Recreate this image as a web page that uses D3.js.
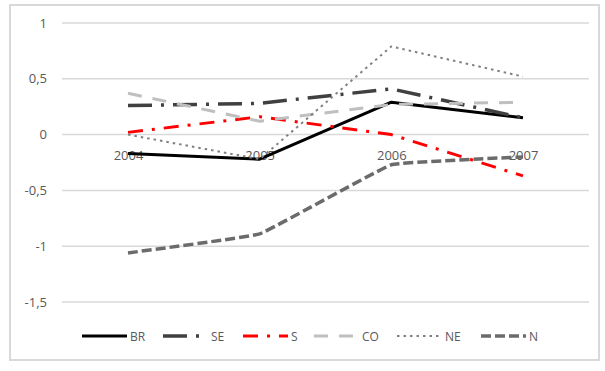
<!DOCTYPE html>
<html><head><meta charset="utf-8">
<script src="https://cdn.jsdelivr.net/npm/d3@7"></script>
<style>body{margin:0;background:#fff}svg{display:block}</style>
</head><body><svg id="c" width="605" height="371"></svg>
<script>
const years = ["2004","2005","2006","2007"];
const BR = [-0.17,-0.22,0.29,0.15];
const SE = [0.26,0.28,0.41,0.15];
const S  = [0.02,0.16,0.00,-0.37];
const CO = [0.37,0.12,0.27,0.29];
const NE = [0.00,-0.22,0.79,0.52];
const N  = [-1.06,-0.89,-0.27,-0.20];
const yTicks = [1,0.5,0,-0.5,-1,-1.5];
const yTickLabels = ["1","0,5","0","-0,5","-1","-1,5"];

const series = [
  {name:"BR", values:BR, color:"#000000", width:3, dash:null, curve:d3.curveLinear},
  {name:"SE", values:SE, color:"#404040", width:3.5, dash:"24,9,3,9", curve:d3.curveLinear},
  {name:"S",  values:S,  color:"#ff0000", width:3, dash:"15,9,3,9", curve:d3.curveLinear},
  {name:"CO", values:CO, color:"#bfbfbf", width:3, dash:"14,11", curve:d3.curveLinear},
  {name:"NE", values:NE, color:"#808080", width:2, dash:"2.5,4", curve:d3.curveLinear},
  {name:"N",  values:N,  color:"#6b6b6b", width:3.5, dash:"10,4", curve:d3.curveCardinal.tension(0.8)}
];

const svg = d3.select("#c");
svg.append("rect").attr("x",10).attr("y",5).attr("width",589).attr("height",355)
  .attr("fill","#fff").attr("stroke","#d9d9d9").attr("stroke-width",2);

const x = d3.scalePoint().domain(years).range([128,523]);
const y = d3.scaleLinear().domain([-1.5,1]).range([302,23]);

// gridlines
svg.append("g").selectAll("line").data(yTicks).join("line")
  .attr("x1",62).attr("x2",589)
  .attr("y1",d=>y(d)).attr("y2",d=>y(d))
  .attr("stroke","#d9d9d9").attr("stroke-width",1.5);

// y axis labels
const yAxis = d3.axisLeft(y).tickValues(yTicks).tickSize(0).tickPadding(0)
  .tickFormat((d,i)=>yTickLabels[i]);
const gy = svg.append("g").attr("transform","translate(47,0)").call(yAxis);
gy.select(".domain").remove();
gy.selectAll("text").attr("fill","#595959").style("font-family","'Open Sans', sans-serif").style("font-size","13px");

// x axis labels at y=0
const xAxis = d3.axisBottom(x).tickSize(0).tickPadding(16);
const gx = svg.append("g").attr("transform",`translate(0,${y(0)})`).call(xAxis);
gx.select(".domain").remove();
gx.selectAll("text").attr("fill","#595959").style("font-family","'Open Sans', sans-serif").style("font-size","13px");

// lines
series.forEach(s=>{
  const line = d3.line().x((d,i)=>x(years[i])).y(d=>y(d)).curve(s.curve);
  svg.append("path").datum(s.values).attr("d",line)
    .attr("fill","none").attr("stroke",s.color).attr("stroke-width",s.width)
    .attr("stroke-dasharray",s.dash).attr("stroke-linejoin","round");
});

// legend
const legX = [82,163,243,314,397,481];
const lg = svg.append("g");
series.forEach((s,i)=>{
  lg.append("line").attr("x1",legX[i]).attr("x2",legX[i]+45)
    .attr("y1",336).attr("y2",336)
    .attr("stroke",s.color).attr("stroke-width",s.width)
    .attr("stroke-dasharray",s.dash);
  lg.append("text").attr("x",legX[i]+48).attr("y",341)
    .attr("fill","#595959").style("font-family","'Open Sans', sans-serif").style("font-size","12px")
    .text(s.name);
});
</script></body></html>
